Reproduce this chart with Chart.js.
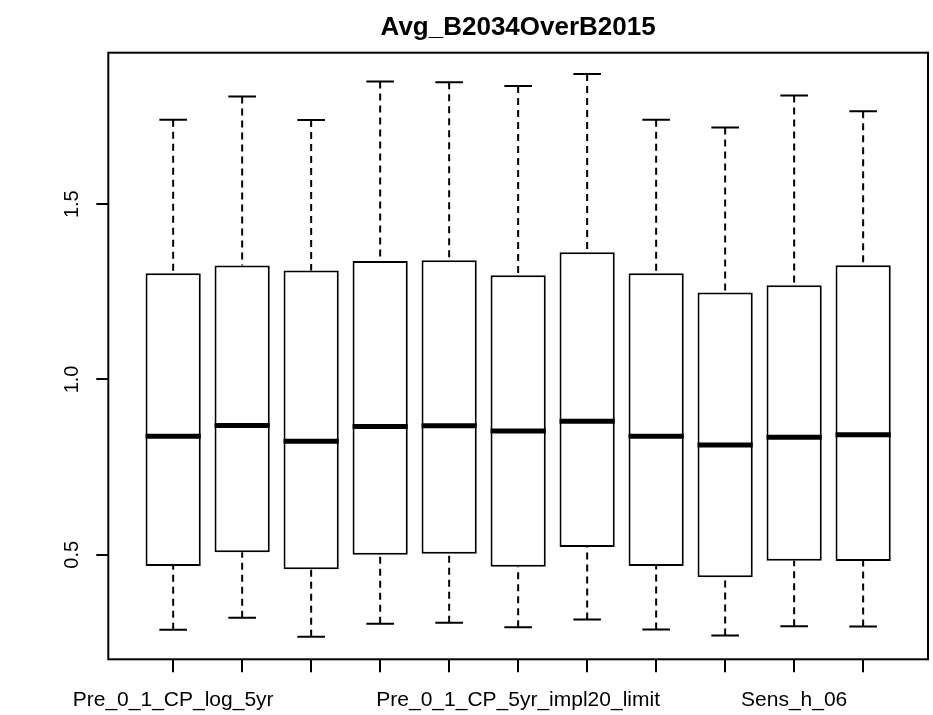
<!DOCTYPE html>
<html>
<head>
<meta charset="utf-8">
<script src="https://cdn.jsdelivr.net/npm/chart.js@4.4.1/dist/chart.umd.min.js"></script>
<style>
  html, body { margin: 0; padding: 0; background: #ffffff; }
  canvas { display: block; }
</style>
</head>
<body>
<canvas id="c" width="933" height="715"></canvas>
<script>
// ---- data ----
const chartTitle = "Avg_B2034OverB2015";
const tickLabels = ["Pre_0_1_CP_log_5yr", "", "", "", "", "Pre_0_1_CP_5yr_impl20_limit", "", "", "", "Sens_h_06", ""];
const lowerWhisker = [0.286, 0.320, 0.266, 0.303, 0.306, 0.293, 0.315, 0.287, 0.270, 0.296, 0.295];
const q1           = [0.468, 0.507, 0.459, 0.500, 0.503, 0.466, 0.522, 0.468, 0.436, 0.483, 0.482];
const median       = [0.838, 0.869, 0.824, 0.866, 0.868, 0.853, 0.881, 0.838, 0.813, 0.835, 0.842];
const q3           = [1.303, 1.325, 1.311, 1.338, 1.340, 1.297, 1.363, 1.303, 1.248, 1.269, 1.326];
const upperWhisker = [1.741, 1.807, 1.740, 1.850, 1.848, 1.837, 1.871, 1.741, 1.719, 1.810, 1.765];
const yTicks = [0.5, 1.0, 1.5];
const yMin = 0.2018, yMax = 1.932;
const xMin = 0.06, xMax = 11.94;

const positions = tickLabels.map((_, i) => i + 1);
const FONT = "'Liberation Sans', Arial, Helvetica, sans-serif";

const boxPlugin = {
  id: 'boxWhiskers',
  afterDatasetsDraw(chart) {
    const ctx = chart.ctx;
    const xs = chart.scales.x, ys = chart.scales.y;
    const meta = chart.getDatasetMeta(0);
    ctx.save();
    ctx.strokeStyle = '#000';
    ctx.lineCap = 'butt';
    meta.data.forEach((bar, i) => {
      const cx = bar.x;
      const half = bar.width / 2;
      const pos = positions[i];
      // whiskers (dashed), drawn from whisker end toward the box
      ctx.lineWidth = 2;
      ctx.setLineDash([7, 5]);
      ctx.beginPath();
      ctx.moveTo(cx, ys.getPixelForValue(lowerWhisker[i]));
      ctx.lineTo(cx, ys.getPixelForValue(q1[i]));
      ctx.moveTo(cx, ys.getPixelForValue(upperWhisker[i]));
      ctx.lineTo(cx, ys.getPixelForValue(q3[i]));
      ctx.stroke();
      ctx.setLineDash([]);
      // staples
      const sl = xs.getPixelForValue(pos - 0.2), sr = xs.getPixelForValue(pos + 0.2);
      ctx.beginPath();
      const yl = ys.getPixelForValue(lowerWhisker[i]);
      const yu = ys.getPixelForValue(upperWhisker[i]);
      ctx.moveTo(sl, yl); ctx.lineTo(sr, yl);
      ctx.moveTo(sl, yu); ctx.lineTo(sr, yu);
      ctx.stroke();
      // median
      ctx.lineWidth = 5;
      const ym = ys.getPixelForValue(median[i]);
      ctx.beginPath();
      ctx.moveTo(cx - half, ym); ctx.lineTo(cx + half, ym);
      ctx.stroke();
    });
    // frame
    const a = chart.chartArea;
    ctx.lineWidth = 2;
    ctx.strokeRect(a.left, a.top, a.right - a.left, a.bottom - a.top);
    // rotated y tick labels
    ctx.fillStyle = '#000';
    ctx.font = '20px ' + FONT;
    ctx.textAlign = 'center';
    ctx.textBaseline = 'alphabetic';
    yTicks.forEach(v => {
      const py = ys.getPixelForValue(v);
      ctx.save();
      ctx.translate(78, py);
      ctx.rotate(-Math.PI / 2);
      ctx.fillText(v.toFixed(1), 0, 0);
      ctx.restore();
    });
    ctx.restore();
  }
};

new Chart(document.getElementById('c'), {
  type: 'bar',
  data: {
    datasets: [{
      data: positions.map((p, i) => ({ x: p, y: [q1[i], q3[i]] })),
      backgroundColor: '#ffffff',
      borderColor: '#000000',
      borderWidth: 2,
      borderSkipped: false,
      barPercentage: 0.8,
      categoryPercentage: 1.0
    }]
  },
  options: {
    responsive: false,
    devicePixelRatio: 1,
    animation: false,
    layout: { padding: { left: 0, right: 5, top: 0, bottom: 0 } },
    plugins: {
      legend: { display: false },
      tooltip: { enabled: false },
      title: {
        display: true,
        text: chartTitle,
        fullSize: false,
        color: '#000',
        font: { family: FONT, size: 26, weight: 'bold', lineHeight: 1.2 },
        padding: { top: 12.4, bottom: 9.1 }
      }
    },
    scales: {
      x: {
        type: 'linear',
        offset: false,
        min: xMin,
        max: xMax,
        afterBuildTicks: s => { s.ticks = positions.map(v => ({ value: v })); },
        afterFit: s => { s.height = 55.7; },
        border: { display: false },
        grid: { display: true, offset: false, drawOnChartArea: false, drawTicks: true, tickLength: 13, color: '#000', lineWidth: 2 },
        ticks: {
          autoSkip: false,
          maxRotation: 0,
          minRotation: 0,
          padding: 15,
          color: '#000',
          font: { family: FONT, size: 21 },
          callback: (value, index) => tickLabels[index]
        }
      },
      y: {
        type: 'linear',
        min: yMin,
        max: yMax,
        afterBuildTicks: s => { s.ticks = yTicks.map(v => ({ value: v })); },
        afterFit: s => { s.width = 108.3; },
        border: { display: false },
        grid: { display: true, drawOnChartArea: false, drawTicks: true, tickLength: 12, color: '#000', lineWidth: 2 },
        ticks: { display: false }
      }
    }
  },
  plugins: [boxPlugin]
});
</script>
</body>
</html>
